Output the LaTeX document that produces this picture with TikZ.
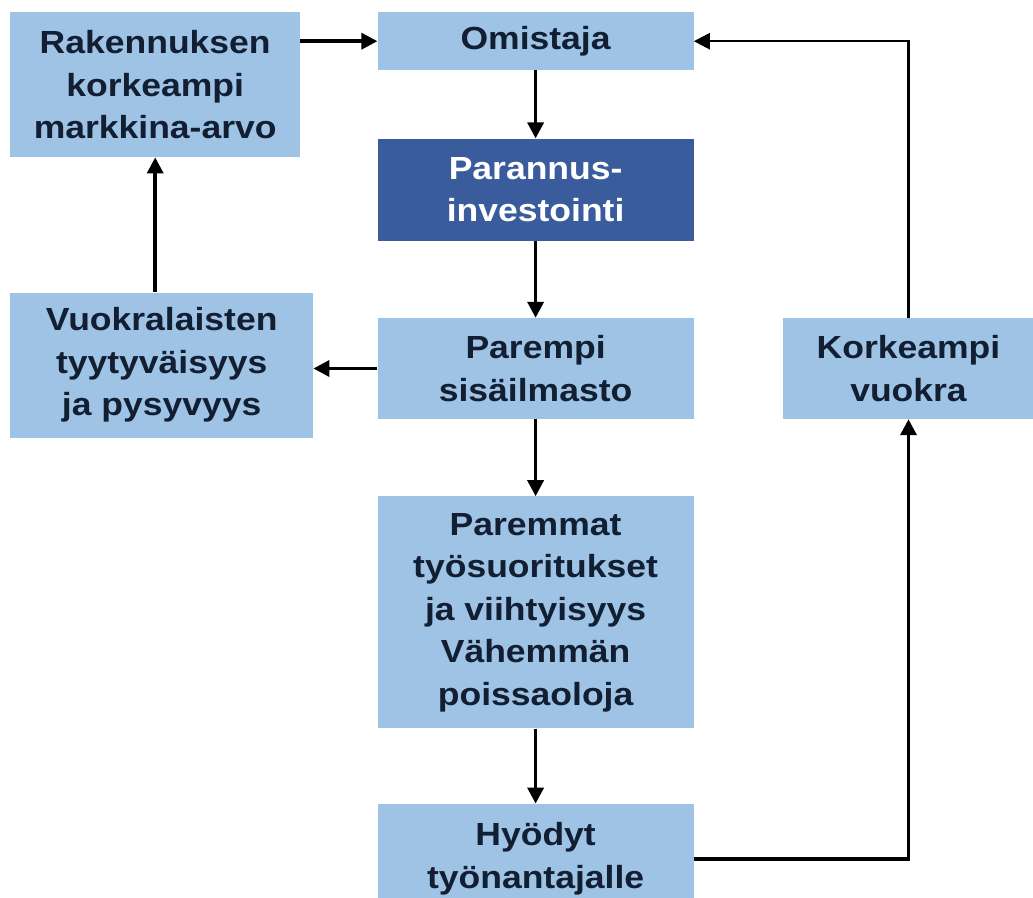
\documentclass[tikz,border=0pt]{standalone}
\usepackage{fontspec}
\newfontfamily\boxfont{Liberation Sans}[FakeStretch=1.11]
\usepackage{tikz}
\usetikzlibrary{arrows.meta, positioning, calc}

\definecolor{lightblue}{RGB}{158,195,228}
\definecolor{darkblue}{RGB}{58,92,156}
\definecolor{navytext}{RGB}{18,30,50}

\tikzset{
  box/.style={fill=lightblue, text=navytext, inner sep=0pt, align=center,
    font=\boxfont\bfseries\fontsize{32}{42.5}\selectfont},
  darkbox/.style={box, fill=darkblue, text=white},
  arr/.style={-{Triangle[length=16pt,width=16pt]}, line width=3.5pt},
}

\begin{document}
\begin{tikzpicture}[x=1pt, y=1pt]
          \useasboundingbox (0,0) rectangle (1033,-897);
          \clip (0,0) rectangle (1033,-897);
          \node (rak) [box, minimum width=290pt, minimum height=145pt, anchor=north west] at (10,-12)
            {Rakennuksen\\korkeampi\\markkina-arvo};
          \node (omi) [box, minimum width=316pt, minimum height=58pt, right=77pt of rak.north east, anchor=north west] {Omistaja};
          \node (par) [darkbox, minimum width=316pt, minimum height=102pt, below=68pt of omi] {Parannus-\\investointi};
          \node (sis) [box, minimum width=316pt, minimum height=101pt, below=77pt of par] {Parempi\\sisäilmasto};
          \node (vuo) [box, minimum width=303pt, minimum height=145pt, below=135pt of rak.south west, anchor=north west]
            {Vuokralaisten\\tyytyväisyys\\ja pysyvyys};
          \node (kor) [box, minimum width=251pt, minimum height=101pt, right=89pt of sis] {Korkeampi\\vuokra};
          \node (tyo) [box, minimum width=316pt, minimum height=232pt, below=77pt of sis]
            {Paremmat\\työsuoritukset\\ja viihtyisyys\\Vähemmän\\poissaoloja};
          \node (hyo) [box, minimum width=316pt, minimum height=110pt, below=75pt of tyo] {Hyödyt\\työnantajalle};
          \draw[arr] (omi.west -| rak.east) -- (omi.west);
          \draw[arr] (omi) -- (par);
          \draw[arr] (par) -- (sis);
          \draw[arr] (sis.west) -- (sis.west -| vuo.east);
          \draw[arr] (rak.south |- vuo.north) -- (rak.south);
          \draw[arr] (sis) -- (tyo);
          \draw[arr] (tyo) -- (hyo);
          \draw[arr] (hyo.east) -| (kor.south);
          \draw[arr, line width=2.5pt] (kor.north) |- (omi.east);
      \end{tikzpicture}
\end{document}
